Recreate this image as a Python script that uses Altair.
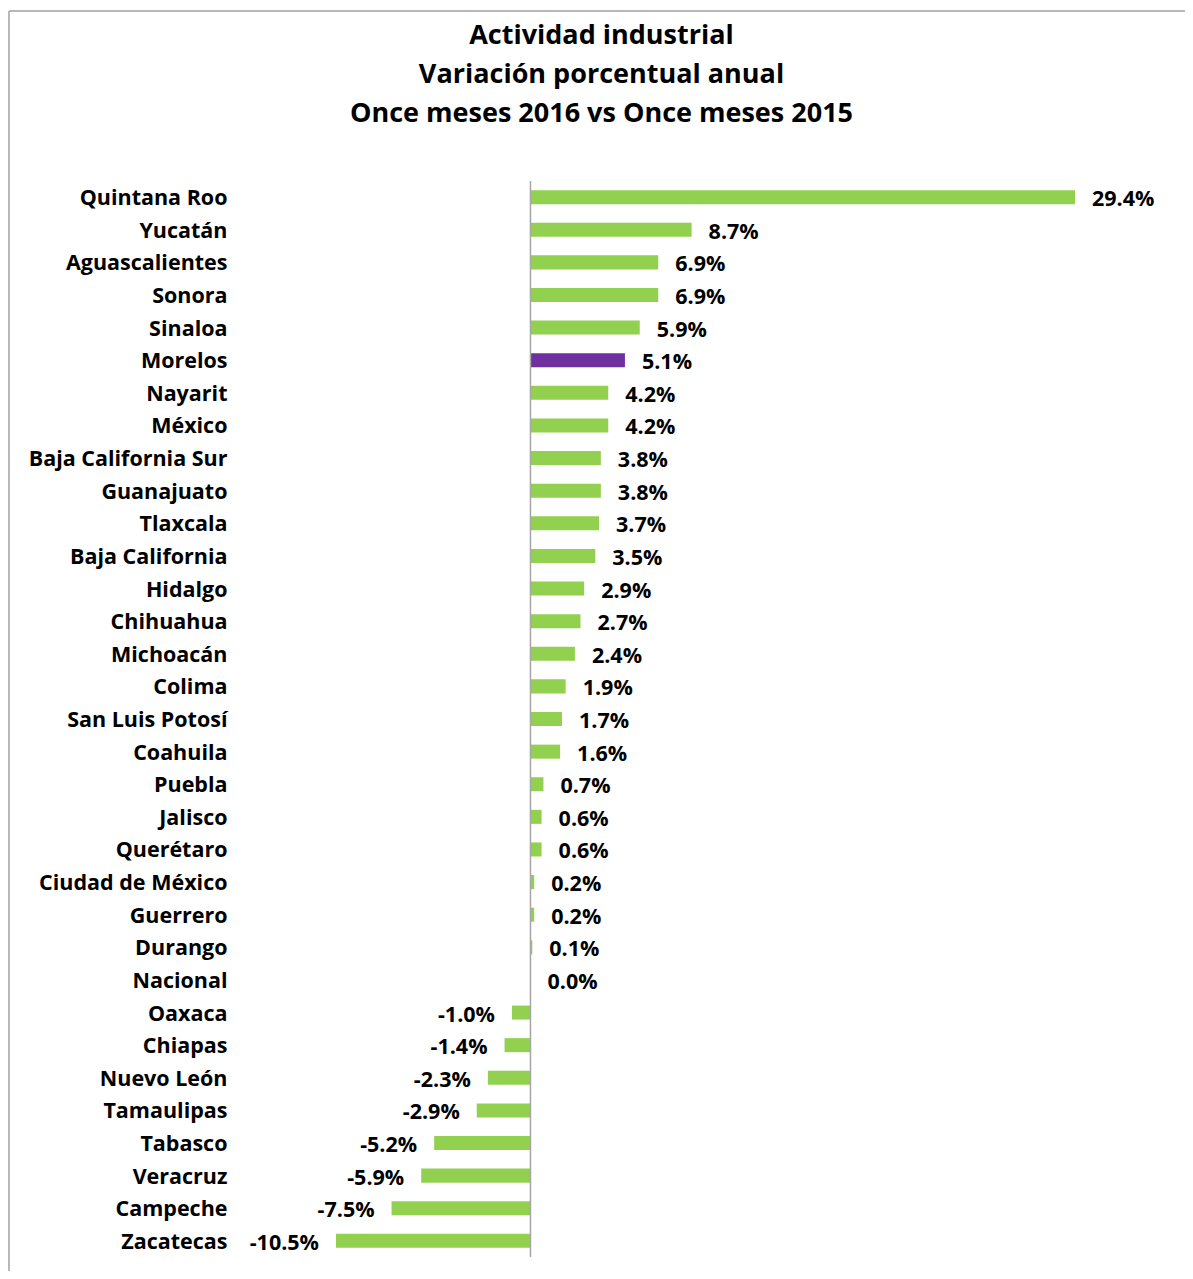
import altair as alt
import pandas as pd

states = ["Quintana Roo", "Yucatán", "Aguascalientes", "Sonora", "Sinaloa", "Morelos",
          "Nayarit", "México", "Baja California Sur", "Guanajuato", "Tlaxcala",
          "Baja California", "Hidalgo", "Chihuahua", "Michoacán", "Colima",
          "San Luis Potosí", "Coahuila", "Puebla", "Jalisco", "Querétaro ",
          "Ciudad de México", "Guerrero", "Durango", "Nacional", "Oaxaca", "Chiapas",
          "Nuevo León", "Tamaulipas", "Tabasco", "Veracruz", "Campeche", "Zacatecas"]
values = [29.4, 8.7, 6.9, 6.9, 5.9, 5.1, 4.2, 4.2, 3.8, 3.8, 3.7, 3.5, 2.9, 2.7, 2.4,
          1.9, 1.7, 1.6, 0.7, 0.6, 0.6, 0.2, 0.2, 0.1, 0.0, -1.0, -1.4, -2.3, -2.9,
          -5.2, -5.9, -7.5, -10.5]
highlight = {"Morelos": "#7030A0", "Nacional": "#C0504D"}
title_lines = ["Actividad industrial", "Variación porcentual anual",
               "Once meses 2016 vs Once meses 2015"]

FONT = "Open Sans"
FS = 21.5
W, H = 739, 1076

df = pd.DataFrame({"estado": states, "valor": values})
df["color"] = [highlight.get(s, "#92D050") for s in states]
df["etiqueta"] = [f"{v:.1f}%" for v in values]

xs = alt.Scale(domain=[-10.5, 29.4], nice=False, zero=False)
ys = alt.Scale(domain=states, paddingInner=0.57, paddingOuter=0.28)

base = alt.Chart(df)

bars = base.mark_bar().encode(
    x=alt.X("valor:Q", scale=xs, axis=None),
    x2=alt.datum(0),
    y=alt.Y("estado:N", scale=ys, sort=states, title=None,
            axis=alt.Axis(labelFont=FONT, labelFontSize=FS, labelFontWeight="bold",
                          labelColor="#000000", labelPadding=109, labelOffset=2,
                          ticks=False, domain=False, grid=False, labelLimit=400)),
    color=alt.Color("color:N", scale=None),
)

pos_text = base.transform_filter("datum.valor >= 0").mark_text(
    align="left", baseline="middle", dx=17, dy=3, font=FONT, fontSize=FS,
    fontWeight="bold", color="#000000"
).encode(x=alt.X("valor:Q", scale=xs), y=alt.Y("estado:N", scale=ys, sort=states),
         text="etiqueta:N")

neg_text = base.transform_filter("datum.valor < 0").mark_text(
    align="right", baseline="middle", dx=-17, dy=3, font=FONT, fontSize=FS,
    fontWeight="bold", color="#000000"
).encode(x=alt.X("valor:Q", scale=xs), y=alt.Y("estado:N", scale=ys, sort=states),
         text="etiqueta:N")

zero_rule = alt.Chart(pd.DataFrame({"z": [0]})).mark_rule(
    color="#A6A6A6", strokeWidth=1.5
).encode(x=alt.X("z:Q", scale=xs), y=alt.value(0), y2=alt.value(H))

border = alt.Chart(pd.DataFrame({"k": [0]}))
top_border = border.mark_rule(color="#A0A0A0", strokeWidth=1.5).encode(
    x=alt.value(-327), x2=alt.value(860), y=alt.value(-170))
left_border = border.mark_rule(color="#A0A0A0", strokeWidth=1.5).encode(
    x=alt.value(-327), y=alt.value(-170), y2=alt.value(H + 20))

chart = alt.layer(bars, zero_rule, pos_text, neg_text, top_border, left_border).properties(
    width=W, height=H,
    title=alt.TitleParams(text=title_lines, font=FONT, fontSize=27, fontWeight="bold",
                          color="#000000", anchor="middle", lineHeight=39, offset=50,
                          dx=-104, dy=168),
    autosize=alt.AutoSizeParams(type="none"),
    padding={"left": 328, "top": 173, "right": 110, "bottom": 14},
    background="#FFFFFF",
).configure_view(strokeWidth=0)

chart.save("out.html", embed_options={"renderer": "svg", "actions": False})
